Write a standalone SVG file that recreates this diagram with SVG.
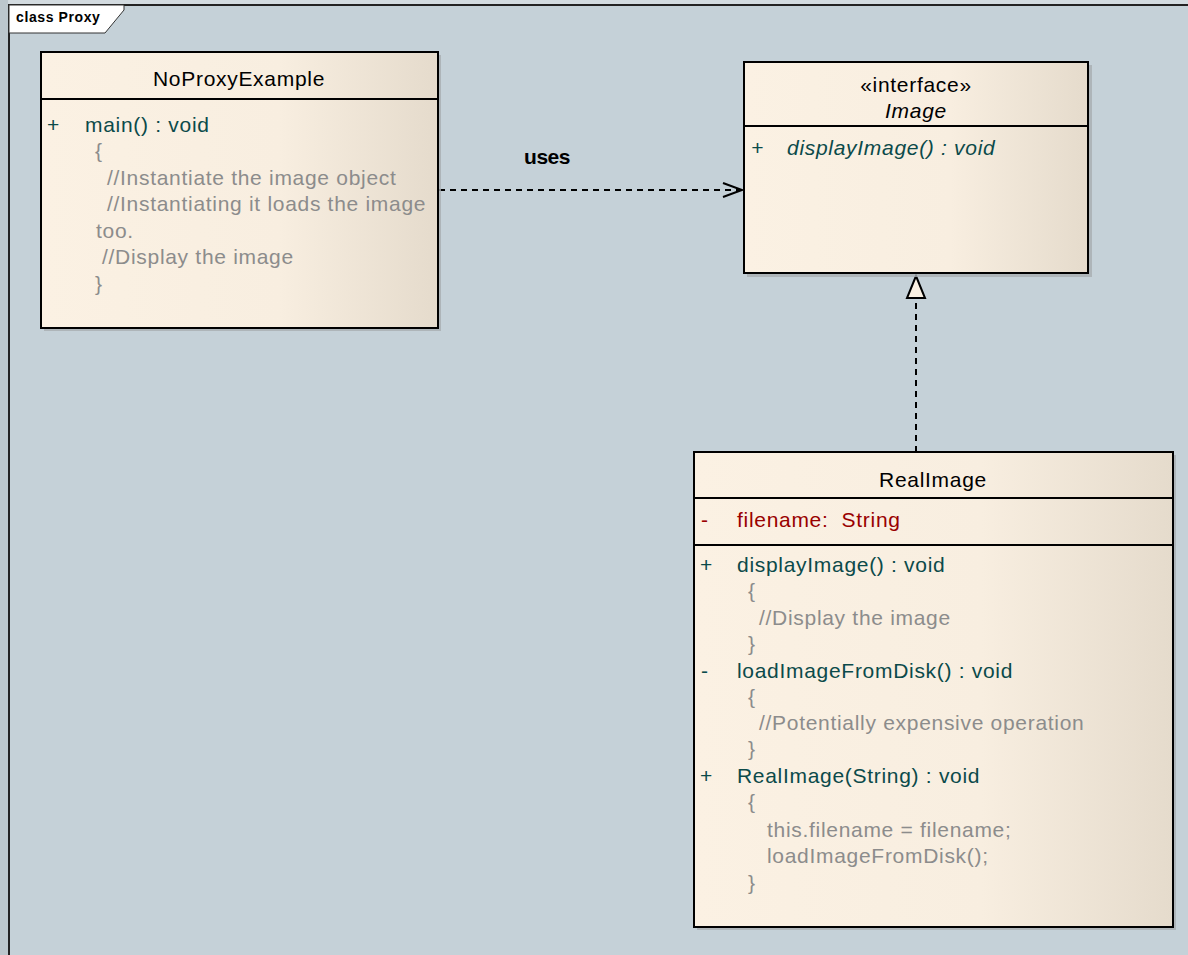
<svg xmlns="http://www.w3.org/2000/svg" width="1188" height="955" viewBox="0 0 1188 955">
  <defs>
    <linearGradient id="boxFill" x1="0" y1="0" x2="1" y2="0">
      <stop offset="0" stop-color="#FBF1E3"/>
      <stop offset="0.6" stop-color="#F8EEE0"/>
      <stop offset="1" stop-color="#E5DBCC"/>
    </linearGradient>
    <marker id="openArrow" markerWidth="24" markerHeight="16" refX="21" refY="8" orient="auto" markerUnits="userSpaceOnUse">
      <path d="M2,1 L21,8 L2,15" fill="none" stroke="#000" stroke-width="2"/>
    </marker>
  </defs>
  <style>
    text { font-family: "Liberation Sans", Arial, sans-serif; font-size: 21px; letter-spacing: 0.7px; white-space: pre; }
    .box { fill: url(#boxFill); stroke: #000; stroke-width: 2; }
    .shadow { fill: #A8AEB2; opacity: 0.8; }
    .sep { stroke: #000; stroke-width: 2; }
    .title { fill: #000; text-anchor: middle; }
    .op { fill: #0B4A4A; }
    .cm { fill: #8C8C8C; }
    .attr { fill: #990000; }
    .it { font-style: italic; }
    .dash { fill: none; stroke: #000; stroke-width: 2; stroke-dasharray: 6 5; }
  </style>

  <!-- canvas and diagram frame -->
  <rect x="0" y="0" width="1188" height="955" fill="#C5D1D8"/>
  <rect x="0" y="0" width="1188" height="4" fill="#D3DBE0"/>
  <rect x="0" y="0" width="8" height="955" fill="#BCC7CD"/>
  <path d="M9,955 L9,5 L1188,5" fill="none" stroke="#222" stroke-width="2"/>
  <g id="frame-label">
    <path d="M9,5 L124,5 L124,10 L105,33 L9,33 Z" fill="#FFFFFF" stroke="#333" stroke-width="1"/>
    <text x="16" y="22" style="font-size:14px;font-weight:bold;letter-spacing:0.6px" fill="#000">class Proxy</text>
  </g>

  <!-- connectors -->
  <g id="connectors">
    <line class="dash" x1="439" y1="190" x2="742" y2="190" marker-end="url(#openArrow)"/>
    <text x="547" y="164" text-anchor="middle" style="font-weight:bold;letter-spacing:-0.5px" fill="#000">uses</text>
    <line class="dash" x1="916" y1="452" x2="916" y2="298"/>
    <path d="M916,276 L925,298 L907,298 Z" fill="#FBF1E3" stroke="#000" stroke-width="2" stroke-linejoin="miter"/>
  </g>

  <!-- NoProxyExample -->
  <g id="NoProxyExample">
    <rect class="shadow" x="44" y="55" width="397" height="276"/>
    <rect class="box" x="41" y="52" width="397" height="276"/>
    <line class="sep" x1="41" y1="99" x2="438" y2="99"/>
    <text class="title" x="239" y="86">NoProxyExample</text>
    <text class="op" x="47" y="132">+</text>
    <text class="op" x="85" y="132">main() : void</text>
    <text class="cm" x="95" y="158">{</text>
    <text class="cm" x="107" y="185">//Instantiate the image object</text>
    <text class="cm" x="107" y="211">//Instantiating it loads the image</text>
    <text class="cm" x="96" y="238">too.</text>
    <text class="cm" x="102" y="264">//Display the image</text>
    <text class="cm" x="95" y="291">}</text>
  </g>

  <!-- Image interface -->
  <g id="Image">
    <rect class="shadow" x="747" y="65" width="345" height="212"/>
    <rect class="box" x="744" y="62" width="344" height="211"/>
    <line class="sep" x1="744" y1="126" x2="1088" y2="126"/>
    <text class="title" x="916" y="92">«interface»</text>
    <text class="title it" x="916" y="118">Image</text>
    <text class="op it" x="751" y="155">+</text>
    <text class="op it" x="787" y="155">displayImage() : void</text>
  </g>

  <!-- RealImage -->
  <g id="RealImage">
    <rect class="shadow" x="697" y="455" width="479" height="475"/>
    <rect class="box" x="694" y="452" width="479" height="475"/>
    <line class="sep" x1="694" y1="498" x2="1173" y2="498"/>
    <line class="sep" x1="694" y1="545" x2="1173" y2="545"/>
    <text class="title" x="933" y="487">RealImage</text>
    <text class="attr" x="701" y="527">-</text>
    <text class="attr" x="737" y="527">filename:  String</text>
    <text class="op" x="700" y="572">+</text>
    <text class="op" x="737" y="572">displayImage() : void</text>
    <text class="cm" x="748" y="598">{</text>
    <text class="cm" x="759" y="625">//Display the image</text>
    <text class="cm" x="748" y="651">}</text>
    <text class="op" x="701" y="678">-</text>
    <text class="op" x="737" y="678">loadImageFromDisk() : void</text>
    <text class="cm" x="748" y="704">{</text>
    <text class="cm" x="759" y="730">//Potentially expensive operation</text>
    <text class="cm" x="748" y="756">}</text>
    <text class="op" x="700" y="783">+</text>
    <text class="op" x="737" y="783">RealImage(String) : void</text>
    <text class="cm" x="748" y="809">{</text>
    <text class="cm" x="767" y="837">this.filename = filename;</text>
    <text class="cm" x="767" y="863">loadImageFromDisk();</text>
    <text class="cm" x="748" y="890">}</text>
  </g>
</svg>
